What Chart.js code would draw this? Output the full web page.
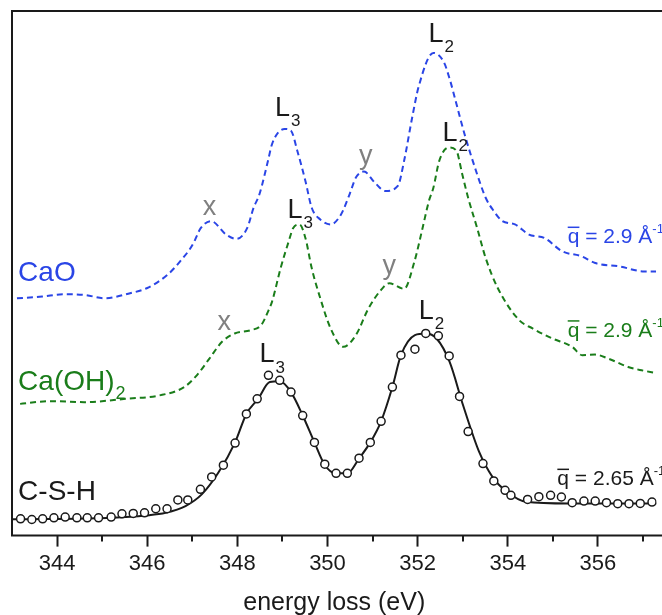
<!DOCTYPE html>
<html>
<head>
<meta charset="utf-8">
<script src="https://cdn.jsdelivr.net/npm/chart.js@4.4.0/dist/chart.umd.min.js"></script>
<style>
  html, body { margin: 0; padding: 0; background: #fff; }
  #wrap { width: 662px; height: 615px; }
</style>
</head>
<body>
<div id="wrap"><canvas id="chart" width="662" height="615"></canvas></div>
<script>
'use strict';

// energy loss (eV) and stacked intensity (arb. units)
const caoEnergy = [343.11, 343.67, 344.13, 344.6, 345.06, 345.62, 345.99, 346.45, 346.73, 347.01, 347.19, 347.42, 347.75, 347.98, 348.22, 348.36, 348.49, 348.68, 348.77, 349.05, 349.19, 349.33, 349.51, 349.65, 349.84, 350.07, 350.3, 350.49, 350.63, 350.81, 351.05, 351.28, 351.56, 351.7, 351.88, 352.02, 352.35, 352.58, 352.72, 352.86, 353.04, 353.32, 353.51, 353.69, 353.88, 354.16, 354.47, 354.81, 355.21, 355.64, 355.94, 356.48, 357.03, 357.29];
const caoIntensity = [45.24, 45.56, 46.0, 45.89, 45.24, 46.2, 47.15, 49.72, 52.27, 55.47, 58.65, 59.94, 57.39, 56.55, 58.65, 62.49, 65.06, 71.44, 74.64, 77.52, 77.19, 73.36, 67.61, 62.49, 60.26, 59.31, 61.22, 65.06, 68.24, 69.39, 67.28, 65.69, 66.65, 71.44, 79.74, 85.49, 92.01, 90.28, 86.77, 82.31, 76.56, 68.89, 64.4, 61.86, 59.94, 59.31, 57.39, 56.74, 54.19, 53.23, 51.95, 51.31, 50.36, 50.36];

const cohEnergy = [343.18, 343.84, 344.6, 345.52, 346.27, 346.82, 347.1, 347.38, 347.66, 347.94, 348.31, 348.53, 348.68, 348.77, 348.96, 349.14, 349.24, 349.38, 349.51, 349.65, 349.84, 350.07, 350.35, 350.63, 350.91, 351.19, 351.37, 351.7, 351.93, 352.11, 352.25, 352.35, 352.48, 352.69, 352.86, 352.99, 353.12, 353.32, 353.51, 353.78, 354.25, 354.55, 354.99, 355.43, 355.65, 355.94, 356.23, 356.67, 356.97, 357.26];
const cohIntensity = [25.11, 25.63, 25.44, 26.07, 26.72, 28.31, 30.55, 33.74, 36.94, 38.53, 39.18, 40.14, 42.69, 44.6, 50.99, 56.1, 58.65, 59.31, 56.74, 50.99, 45.24, 39.49, 35.98, 38.22, 43.32, 46.85, 48.11, 47.04, 52.27, 58.65, 63.77, 66.32, 71.44, 73.99, 73.36, 68.89, 64.4, 58.65, 52.9, 47.15, 41.1, 39.49, 37.57, 35.98, 34.39, 34.5, 33.74, 32.15, 31.51, 31.05];

const cshFitEnergy = [343.0, 345.23, 345.97, 346.41, 346.85, 347.21, 347.58, 347.95, 348.2, 348.46, 348.72, 348.94, 349.19, 349.45, 349.71, 349.93, 350.18, 350.44, 350.7, 350.95, 351.19, 351.44, 351.63, 351.94, 352.18, 352.42, 352.71, 353.01, 353.37, 353.67, 353.96, 354.4, 355.35, 357.3];
const cshFitIntensity = [3.1, 3.39, 3.83, 4.35, 5.64, 7.86, 12.02, 17.77, 23.19, 26.07, 29.27, 29.4, 27.35, 22.89, 17.77, 13.61, 11.88, 11.88, 14.7, 17.77, 21.79, 28.31, 34.39, 38.22, 38.53, 37.57, 33.1, 24.8, 15.85, 11.06, 8.51, 6.46, 6.13, 6.13];

const cshEnergy = [343.19, 343.44, 343.68, 343.93, 344.18, 344.44, 344.67, 344.92, 345.2, 345.44, 345.69, 345.94, 346.19, 346.44, 346.68, 346.9, 347.18, 347.43, 347.69, 347.95, 348.2, 348.44, 348.69, 348.94, 349.19, 349.45, 349.71, 349.94, 350.19, 350.44, 350.7, 350.95, 351.19, 351.44, 351.63, 351.94, 352.18, 352.46, 352.7, 352.93, 353.12, 353.45, 353.69, 353.94, 354.07, 354.44, 354.69, 354.95, 355.19, 355.43, 355.69, 355.94, 356.19, 356.44, 356.69, 356.94, 357.2];
const cshIntensity = [3.2, 3.07, 3.2, 3.39, 3.53, 3.39, 3.39, 3.39, 3.53, 4.16, 4.22, 4.35, 5.12, 5.12, 6.79, 6.79, 8.82, 11.19, 13.42, 17.63, 23.19, 26.07, 30.55, 29.6, 27.35, 22.89, 17.77, 13.61, 11.88, 11.88, 14.76, 17.77, 21.79, 28.31, 34.39, 35.54, 38.53, 38.09, 34.25, 26.53, 19.82, 13.74, 10.43, 8.63, 7.67, 6.9, 7.42, 7.67, 7.36, 6.27, 6.59, 6.59, 6.27, 6.08, 6.08, 6.13, 6.4];

const xTickValues = [344, 346, 348, 350, 352, 354, 356];
const xMinorTickValues = [345, 347, 349, 351, 353, 355, 357];

const FONT = '"Liberation Sans", Arial, Helvetica, sans-serif';
const BLUE = '#2a45e6';
const GREEN = '#1a7d1a';
const GRAY = '#808080';
const INK = '#1a1a1a';

const toPoints = (xs, ys) => xs.map((x, i) => ({ x: x, y: ys[i] }));

// text annotations placed in data coordinates
const sampleLabels = [
    { text: 'CaO', sub: '', x: 343.135, y: 49.97, color: BLUE },
    { text: 'Ca(OH)', sub: '2', x: 343.135, y: 29.27, color: GREEN },
    { text: 'C-S-H', sub: '', x: 343.135, y: 8.18, color: INK }
];
const edgeLabels = [
    { sub: '3', x: 349.0, y: 81.41 },
    { sub: '3', x: 349.28, y: 62.05 },
    { sub: '3', x: 348.66, y: 34.45 },
    { sub: '2', x: 352.41, y: 95.59 },
    { sub: '2', x: 352.72, y: 76.62 },
    { sub: '2', x: 352.19, y: 42.69 }
];
const featureLabels = [
    { text: 'x', x: 347.38, y: 62.62 },
    { text: 'x', x: 347.71, y: 40.54 },
    { text: 'y', x: 350.85, y: 72.2 },
    { text: 'y', x: 351.37, y: 51.2 }
];
const qLabels = [
    { value: '2.9', x: 355.33, y: 55.72, color: BLUE },
    { value: '2.9', x: 355.33, y: 37.87, color: GREEN },
    { value: '2.65', x: 355.1, y: 9.58, color: INK }
];

const decorPlugin = {
    id: 'decor',
    afterDraw(chart) {
        const ctx = chart.ctx;
        const area = chart.chartArea;
        const xs = chart.scales.x;
        const ys = chart.scales.y;
        ctx.save();

        // frame: left, top, bottom
        ctx.strokeStyle = INK;
        ctx.lineWidth = 2;
        ctx.beginPath();
        ctx.moveTo(chart.width, area.top);
        ctx.lineTo(area.left, area.top);
        ctx.lineTo(area.left, area.bottom);
        ctx.lineTo(chart.width, area.bottom);
        ctx.stroke();

        // minor ticks
        xMinorTickValues.forEach(v => {
            const px = Math.round(xs.getPixelForValue(v));
            ctx.beginPath();
            ctx.moveTo(px, area.bottom);
            ctx.lineTo(px, area.bottom + 6);
            ctx.stroke();
        });

        ctx.textBaseline = 'middle';
        ctx.textAlign = 'left';

        sampleLabels.forEach(l => {
            const px = xs.getPixelForValue(l.x);
            const py = ys.getPixelForValue(l.y);
            ctx.fillStyle = l.color;
            ctx.font = '28px ' + FONT;
            ctx.fillText(l.text, px, py);
            if (l.sub) {
                const w = ctx.measureText(l.text).width;
                ctx.font = '18px ' + FONT;
                ctx.fillText(l.sub, px + w + 1, py + 12);
            }
        });

        edgeLabels.forEach(l => {
            const px = xs.getPixelForValue(l.x);
            const py = ys.getPixelForValue(l.y);
            ctx.fillStyle = INK;
            ctx.font = '27px ' + FONT;
            const w = ctx.measureText('L').width;
            ctx.fillText('L', px - w / 2, py);
            ctx.font = '17px ' + FONT;
            ctx.fillText(l.sub, px + w / 2 + 1, py + 13);
        });

        ctx.textAlign = 'center';
        ctx.fillStyle = GRAY;
        ctx.font = '27px ' + FONT;
        featureLabels.forEach(l => {
            ctx.fillText(l.text, xs.getPixelForValue(l.x), ys.getPixelForValue(l.y));
        });

        ctx.textAlign = 'left';
        ctx.textBaseline = 'alphabetic';
        qLabels.forEach(l => {
            let px = xs.getPixelForValue(l.x);
            const py = ys.getPixelForValue(l.y);
            ctx.fillStyle = l.color;
            ctx.strokeStyle = l.color;
            ctx.font = '21px ' + FONT;
            const wq = ctx.measureText('q').width;
            ctx.fillText('q', px, py);
            ctx.lineWidth = 1.5;
            ctx.beginPath();
            ctx.moveTo(px, py - 16);
            ctx.lineTo(px + wq, py - 16);
            ctx.stroke();
            px += wq;
            const rest = ' = ' + l.value + ' \u00c5';
            ctx.fillText(rest, px, py);
            px += ctx.measureText(rest).width;
            ctx.font = '13px ' + FONT;
            ctx.fillText('-1', px, py - 10);
        });

        ctx.restore();
    }
};

const ctx = document.getElementById('chart').getContext('2d');
const chart = new Chart(ctx, {
    'type': 'line',
    'data': {
        'datasets': [
            {
                'label': 'C-S-H data',
                'data': toPoints(cshEnergy, cshIntensity),
                'showLine': false,
                'pointStyle': 'circle',
                'pointRadius': 4,
                'pointBorderWidth': 1.5,
                'pointBorderColor': INK,
                'pointBackgroundColor': '#ffffff',
                'order': 0
            },
            {
                'label': 'C-S-H fit',
                'data': toPoints(cshFitEnergy, cshFitIntensity),
                'borderColor': INK,
                'borderWidth': 2,
                'pointRadius': 0,
                'cubicInterpolationMode': 'monotone',
                'order': 1
            },
            {
                'label': 'Ca(OH)2',
                'data': toPoints(cohEnergy, cohIntensity),
                'borderColor': GREEN,
                'borderWidth': 2,
                'borderDash': [6, 4],
                'pointRadius': 0,
                'cubicInterpolationMode': 'monotone',
                'order': 2
            },
            {
                'label': 'CaO',
                'data': toPoints(caoEnergy, caoIntensity),
                'borderColor': BLUE,
                'borderWidth': 2,
                'borderDash': [6, 4],
                'pointRadius': 0,
                'cubicInterpolationMode': 'monotone',
                'order': 3
            }
        ]
    },
    'options': {
        'responsive': false,
        'animation': false,
        'devicePixelRatio': 1,
        'layout': { 'padding': { 'left': 12, 'top': 11, 'right': 0, 'bottom': 0 } },
        'plugins': {
            'legend': { 'display': false },
            'tooltip': { 'enabled': false }
        },
        'scales': {
            'x': {
                'type': 'linear',
                'min': 343.0,
                'max': 357.3,
                'afterBuildTicks': scale => {
                    scale.ticks = xTickValues.map(v => ({ value: v }));
                },
                'grid': {
                    'drawOnChartArea': false,
                    'drawTicks': true,
                    'tickLength': 11,
                    'tickWidth': 2,
                    'tickColor': INK
                },
                'border': { 'display': false },
                'ticks': {
                    'color': INK,
                    'padding': 4.5,
                    'maxRotation': 0,
                    'font': { 'family': FONT, 'size': 22 }
                },
                'title': {
                    'display': true,
                    'text': 'energy loss (eV)',
                    'color': INK,
                    'padding': { 'top': 9, 'bottom': 0 },
                    'font': { 'family': FONT, 'size': 25, 'lineHeight': 0.96 }
                }
            },
            'y': {
                'display': false,
                'min': 0,
                'max': 100
            }
        }
    },
    'plugins': [decorPlugin]
});
</script>
</body>
</html>
